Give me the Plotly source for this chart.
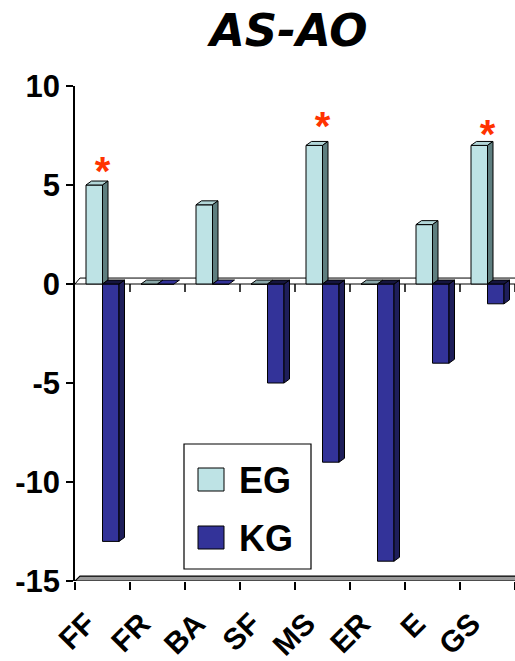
import plotly.graph_objects as go

# ---- data ----
categories = ["FF", "FR", "BA", "SF", "MS", "ER", "E", "GS"]
eg_values = [5, 0, 4, 0, 7, 0, 3, 7]
kg_values = [-13, 0, 0, -5, -9, -14, -4, -1]
series_names = ["EG", "KG"]
y_ticks = [-15, -10, -5, 0, 5, 10]
y_tick_labels = ["-15", "-10", "-5", "0", "5", "10"]
sig_categories = ["FF", "MS", "GS"]
sig_heights = [5.5, 7.8, 7.35]
title_text = "AS-AO"

# ---- style ----
BAR_W = 0.3          # front-face width of each bar (category units)
DX, DY = 0.1, 0.2    # 3D extrusion of bars (x in category units, y in value units)
PDX, PDY = 0.09, 0.3  # extrusion of the value planes
Y_MIN, Y_MAX = -15, 10
EG_FRONT, EG_SIDE, EG_TOP, EG_FLAT = "#BEE3E5", "#5E7E7F", "#B2D6D8", "#8BA9AA"
KG_FRONT, KG_SIDE, KG_TOP, KG_FLAT = "#333399", "#1E1E5A", "#15153F", "#333399"
STAR_RED = "#FF3300"
TICK_FONT = dict(family="Liberation Sans, Arial, sans-serif", color="black")

W, H = 515, 661
ML, MR, MT, MB = 75, 0, 86, 80

n = len(categories)
xs = list(range(n))

fig = go.Figure()


def faces(x0, x1, v, dx, dy):
    """Side and top polygons of an extruded bar from 0 to v."""
    lo, hi = min(0, v), max(0, v)
    side = [(x1, lo), (x1 + dx, lo + dy), (x1 + dx, hi + dy), (x1, hi)]
    top = [(x0, hi), (x0 + dx, hi + dy), (x1 + dx, hi + dy), (x1, hi)]
    return side, top


def poly_trace(polys, color):
    px, py = [], []
    for p in polys:
        for (a, b) in p + [p[0]]:
            px.append(a)
            py.append(b)
        px.append(None)
        py.append(None)
    return go.Scatter(x=px, y=py, mode="lines", fill="toself", fillcolor=color,
                      line=dict(color="black", width=1), hoverinfo="skip",
                      showlegend=False)


# front faces of the bars
eg_x = [i - BAR_W / 2 for i in xs]
kg_x = [i + BAR_W / 2 for i in xs]
fig.add_trace(go.Bar(x=eg_x, y=eg_values, width=BAR_W, name=series_names[0],
                     marker=dict(color=EG_FRONT, line=dict(color="black", width=1)),
                     showlegend=False))
fig.add_trace(go.Bar(x=kg_x, y=kg_values, width=BAR_W, name=series_names[1],
                     marker=dict(color=KG_FRONT, line=dict(color="black", width=1)),
                     showlegend=False))

# side / top faces
eg_tops, eg_flats, eg_sides = [], [], []
kg_tops, kg_flats, kg_sides = [], [], []
for i in xs:
    x0, x1 = i - BAR_W, i
    side, top = faces(x0, x1, eg_values[i], DX, DY)
    if eg_values[i] == 0:
        eg_flats.append(top)
    else:
        eg_sides.append(side)
        eg_tops.append(top)
    x0, x1 = i, i + BAR_W
    side, top = faces(x0, x1, kg_values[i], DX, DY)
    if kg_values[i] == 0:
        kg_flats.append(top)
    else:
        kg_sides.append(side)
        kg_tops.append(top)

fig.add_trace(poly_trace(eg_tops, EG_TOP))
fig.add_trace(poly_trace(eg_flats, EG_FLAT))
fig.add_trace(poly_trace(eg_sides, EG_SIDE))
fig.add_trace(poly_trace(kg_sides, KG_SIDE))
fig.add_trace(poly_trace(kg_tops, KG_TOP))
fig.add_trace(poly_trace(kg_flats, KG_FLAT))

# significance asterisks
fig.add_trace(go.Scatter(
    x=[categories.index(c) for c in sig_categories], y=sig_heights,
    mode="text", text=["*"] * len(sig_categories), textposition="middle center",
    textfont=dict(family="Liberation Sans, Arial, sans-serif", size=40,
                  color=STAR_RED, weight="bold"),
    hoverinfo="skip", showlegend=False))

# invisible trace to carry the boundary-tick axis
fig.add_trace(go.Scatter(x=[-0.5, n - 0.5], y=[0, 0], xaxis="x2", mode="none",
                         hoverinfo="skip", showlegend=False))

shapes = []
# value plane at zero
shapes.append(dict(type="path", xref="x", yref="y", layer="below",
                   path=f"M -0.5,0 L {-0.5 + PDX},{PDY} L {n + 1},{PDY} L {n + 1},0 Z",
                   fillcolor="white", line=dict(color="black", width=1)))
# floor at the bottom
shapes.append(dict(type="path", xref="x", yref="y", layer="below",
                   path=f"M -0.5,{Y_MIN} L {-0.5 + PDX},{Y_MIN + 0.25} L {n + 1},{Y_MIN + 0.25} L {n + 1},{Y_MIN} Z",
                   fillcolor="#9A9A9A", line=dict(color="black", width=1.2)))
# category boundary ticks along the zero line
for b in range(1, n + 1):
    shapes.append(dict(type="line", xref="x", yref="y", ysizemode="pixel",
                       yanchor=0, x0=b - 0.5, x1=b - 0.5, y0=0, y1=-8,
                       line=dict(color="black", width=1.5)))


def px_to_paper(px, py):
    return (px - ML) / (W - ML - MR), (H - MB - py) / (H - MT - MB)


# legend box
lx0, ly0 = px_to_paper(184, 444)
lx1, ly1 = px_to_paper(311, 569)
shapes.append(dict(type="rect", xref="paper", yref="paper", x0=lx0, y0=ly1,
                   x1=lx1, y1=ly0, fillcolor="white",
                   line=dict(color="black", width=1.2)))
legend_rows = [(series_names[0], EG_FRONT, 480), (series_names[1], KG_FRONT, 538)]
annotations = []
for name, col, cy in legend_rows:
    sx0, sy0 = px_to_paper(198, cy - 12)
    sx1, sy1 = px_to_paper(224, cy + 11)
    shapes.append(dict(type="rect", xref="paper", yref="paper", x0=sx0, y0=sy1,
                       x1=sx1, y1=sy0, fillcolor=col,
                       line=dict(color="black", width=1)))
    tx, ty = px_to_paper(237, cy)
    annotations.append(dict(xref="paper", yref="paper", x=tx, y=ty, text=name,
                            showarrow=False, xanchor="left", yanchor="middle",
                            font=dict(TICK_FONT, size=36, weight="bold")))

# title
tx, ty = px_to_paper(287, 31)
annotations.append(dict(xref="paper", yref="paper", x=tx, y=ty, text=title_text,
                        showarrow=False, xanchor="center", yanchor="middle",
                        font=dict(family="DejaVu Sans, sans-serif", size=45,
                                  weight="bold", style="italic", color="black")))

fig.update_layout(
    width=W, height=H,
    margin=dict(l=ML, r=MR, t=MT, b=MB),
    paper_bgcolor="white", plot_bgcolor="white",
    barmode="overlay", showlegend=False,
    shapes=shapes, annotations=annotations,
    xaxis=dict(range=[-0.5, n - 0.5], tickvals=xs, ticktext=categories,
               tickangle=-45, ticks="", showline=False, showgrid=False,
               zeroline=False, ticklabelstandoff=18, ticklabelshift=-16,
               tickfont=dict(TICK_FONT, size=30, weight="bold")),
    xaxis2=dict(range=[-0.5, n - 0.5], overlaying="x", anchor="y", side="bottom",
                tickvals=[b - 0.5 for b in range(n + 1)], showticklabels=False,
                ticks="outside", ticklen=8, tickwidth=1.5, tickcolor="black",
                showline=False, showgrid=False, zeroline=False),
    yaxis=dict(range=[Y_MIN, Y_MAX], tickvals=y_ticks, ticktext=y_tick_labels,
               ticks="outside", ticklen=7,
               tickwidth=1.5, tickcolor="black", showline=True, linecolor="black",
               linewidth=1.5, showgrid=False, zeroline=False,
               tickfont=dict(TICK_FONT, size=31, weight="bold")),
)

fig.write_html("out.html")
